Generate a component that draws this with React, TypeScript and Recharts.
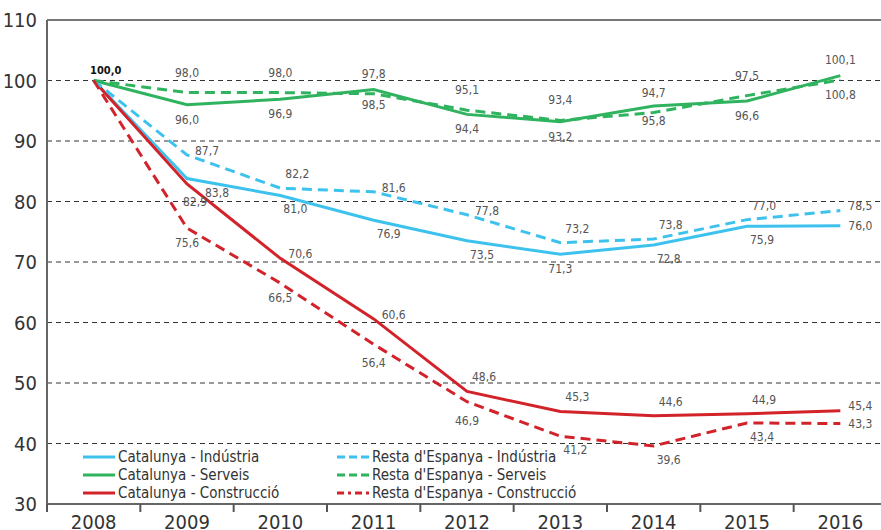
import React from "react";
import {
  LineChart, Line, XAxis, YAxis, CartesianGrid, ReferenceLine, LabelList, Legend,
} from "recharts";

// ── data ───────────────────────────────────────────────────────────────────
const years = ["2008", "2009", "2010", "2011", "2012", "2013", "2014", "2015", "2016"];
const catIndustria = [100, 83.8, 81.0, 76.9, 73.5, 71.3, 72.8, 75.9, 76.0];
const restaIndustria = [100, 87.7, 82.2, 81.6, 77.8, 73.2, 73.8, 77.0, 78.5];
const catServeis = [100, 96.0, 96.9, 98.5, 94.4, 93.2, 95.8, 96.6, 100.8];
const restaServeis = [100, 98.0, 98.0, 97.8, 95.1, 93.4, 94.7, 97.5, 100.1];
const catConstruccio = [100, 82.9, 70.6, 60.6, 48.6, 45.3, 44.6, 44.9, 45.4];
const restaConstruccio = [100, 75.6, 66.5, 56.4, 46.9, 41.2, 39.6, 43.4, 43.3];
const yTicks = [30, 40, 50, 60, 70, 80, 90, 100, 110];

// where each value label sits around its point
const OFFSETS: Record<string, [number, number]> = {
  top: [0, -20],
  bottom: [0, 15],
  bottomLow: [0, 19],
  right: [20, -4],
  rightLevel: [20, 0],
  rightUp: [20, -5],
  topRight: [17, -14],
  bottomRight: [15, 14],
  bottomRightFar: [30, 14],
  bottomNear: [8, 18],
};

const CHART_W = 890;
const CHART_H = 530;
const Y_AXIS_W = 47;
const MARGIN = { top: 20, right: 3, left: 0, bottom: 0 };
const PLOT_W = CHART_W - MARGIN.left - MARGIN.right - Y_AXIS_W;
const STEP = PLOT_W / years.length;

const FONT = "'Liberation Sans Narrow', 'DejaVu Sans Condensed', 'Arial Narrow', Roboto, sans-serif";

const BLUE = "#3dc2ee";
const GREEN = "#2fb35f";
const RED = "#d3232a";

const series = [
  { key: "catIndustria", name: "Catalunya - Indústria", values: catIndustria, color: BLUE, dashed: false,
    labels: ["none", "bottomRightFar", "bottomRight", "bottomRight", "bottomRight", "bottom", "bottomRight", "bottomRight", "rightLevel"] },
  { key: "catServeis", name: "Catalunya - Serveis", values: catServeis, color: GREEN, dashed: false,
    labels: ["base", "bottom", "bottom", "bottom", "bottom", "bottom", "bottom", "bottom", "bottomLow"] },
  { key: "catConstruccio", name: "Catalunya - Construcció", values: catConstruccio, color: RED, dashed: false,
    labels: ["none", "bottomNear", "right", "right", "topRight", "topRight", "topRight", "topRight", "rightUp"] },
  { key: "restaIndustria", name: "Resta d'Espanya - Indústria", values: restaIndustria, color: BLUE, dashed: true,
    labels: ["none", "right", "topRight", "right", "right", "topRight", "topRight", "topRight", "rightUp"] },
  { key: "restaServeis", name: "Resta d'Espanya - Serveis", values: restaServeis, color: GREEN, dashed: true,
    labels: ["none", "top", "top", "top", "top", "top", "top", "top", "top"] },
  { key: "restaConstruccio", name: "Resta d'Espanya - Construcció", values: restaConstruccio, color: RED, dashed: true,
    labels: ["none", "bottom", "bottom", "bottomLow", "bottomLow", "bottomRight", "bottomRight", "bottomRight", "rightLevel"] },
];

const table = years.map((year, i) => {
  const row: Record<string, number | string> = { i, year };
  series.forEach((s) => { row[s.key] = s.values[i]; });
  return row;
});

const fmt = (v: number) => v.toFixed(1).replace(".", ",");

function makeLabel(placements: string[]) {
  return (props: any) => {
    const { x, y, value, index } = props;
    const where = placements[index];
    if (!where || where === "none") return null;
    if (where === "base") {
      return (
        <text x={x + 12} y={y - 10} textAnchor="middle" dominantBaseline="central"
          fontSize={11} fontWeight="bold" fill="#111">{fmt(Number(value))}</text>
      );
    }
    const [dx, dy] = OFFSETS[where];
    return (
      <text x={x + dx} y={y + dy} textAnchor="middle" dominantBaseline="central"
        fontSize={12} fill="#555">{fmt(Number(value))}</text>
    );
  };
}

function XTick(props: any) {
  const { x, y, payload, index } = props;
  const last = index === years.length - 1;
  return (
    <g>
      <line x1={x - STEP / 2} x2={x - STEP / 2} y1={y} y2={y + 8} stroke="#555" strokeWidth={2} />
      {last && <line x1={x + STEP / 2} x2={x + STEP / 2} y1={y} y2={y + 8} stroke="#555" strokeWidth={2} />}
      <text x={x} y={y + 25} textAnchor="middle" fontSize={20} fill="#333">{years[payload.value]}</text>
    </g>
  );
}

function LegendBox() {
  const cols = [series.slice(0, 3), series.slice(3)];
  return (
    <div style={{ display: "flex", fontFamily: FONT, fontSize: 15, color: "#333" }}>
      {cols.map((col, c) => (
        <div key={c} style={{ width: c === 0 ? 254 : 260 }}>
          {col.map((s) => (
            <div key={s.key} style={{ display: "flex", alignItems: "center", height: 18 }}>
              <svg width={34} height={6} style={{ marginRight: 2 }}>
                <line x1={1} x2={33} y1={3} y2={3} stroke={s.color} strokeWidth={3}
                  strokeDasharray={s.dashed ? (s.key === "restaConstruccio" ? "7 4 3 4" : "8 4") : undefined} />
              </svg>
              <span>{s.name}</span>
            </div>
          ))}
        </div>
      ))}
    </div>
  );
}

export default function App() {
  return (
    <div style={{ position: "fixed", left: 0, top: 0, width: 881, height: 530, overflow: "hidden", background: "#fff", fontFamily: FONT }}>
      <LineChart width={CHART_W} height={CHART_H} data={table} margin={MARGIN}>
        <CartesianGrid vertical={false} stroke="#333" strokeDasharray="5 4" />
        <ReferenceLine y={110} stroke="#777" strokeWidth={2} />
        <XAxis dataKey="i" type="number" domain={[-0.5, years.length - 0.5]} ticks={years.map((_, i) => i)}
          interval={0} height={26} tickSize={0} tickMargin={0} tickLine={false}
          axisLine={{ stroke: "#666", strokeWidth: 2 }} tick={<XTick />} />
        <YAxis domain={[30, 110]} ticks={yTicks} width={Y_AXIS_W} tickLine={false} tickMargin={4}
          axisLine={{ stroke: "#666", strokeWidth: 2 }} tick={{ fontSize: 20, fill: "#333" }} />
        <Legend verticalAlign="middle" align="center" layout="horizontal"
          wrapperStyle={{ left: 82, top: 448, width: 520 }} content={() => <LegendBox />} />
        {series.map((s) => (
          <Line key={s.key} type="linear" dataKey={s.key} name={s.name} stroke={s.color} strokeWidth={3}
            strokeDasharray={s.dashed ? "10 6" : undefined} dot={false} activeDot={false}
            isAnimationActive={false}>
            <LabelList dataKey={s.key} content={makeLabel(s.labels)} />
          </Line>
        ))}
      </LineChart>
    </div>
  );
}
